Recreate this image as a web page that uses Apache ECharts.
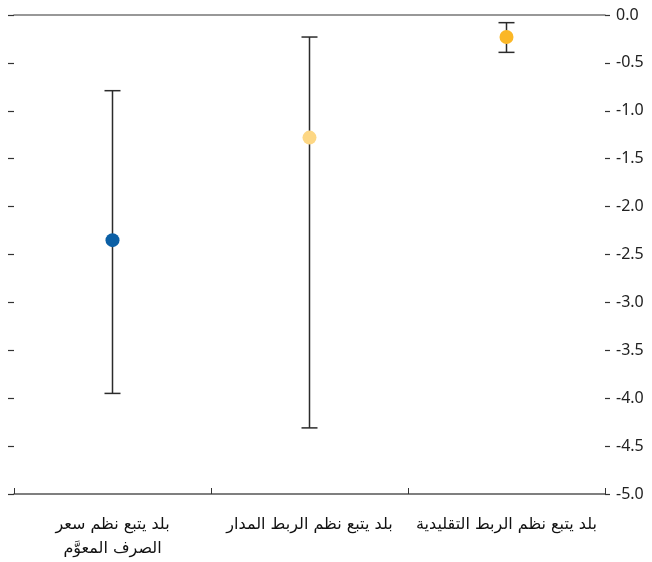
<!DOCTYPE html>
<html>
<head>
<meta charset="utf-8">
<script src="https://cdn.jsdelivr.net/npm/echarts@6/dist/echarts.min.js"></script>
<style>
  html, body { margin: 0; padding: 0; background: #fff; }
  #chart { width: 652px; height: 562px; }
</style>
</head>
<body>
<div id="chart"></div>
<script>
// Regime categories (left to right)
const categories = [
  'بلد يتبع نظم سعر\nالصرف المعوَّم',
  'بلد يتبع نظم الربط المدار',
  'بلد يتبع نظم الربط التقليدية'
];
// Point estimates and their interval bounds
const estimates = [-2.35, -1.28, -0.23];
const upperBounds = [-0.79, -0.23, -0.08];
const lowerBounds = [-3.95, -4.31, -0.39];
const pointColors = ['#0b5fa5', '#fdd784', '#fbb726'];
// Value-axis ticks
const yMin = -5.0, yMax = 0.0, yStep = 0.5;

const chart = echarts.init(document.getElementById('chart'), null, { renderer: 'canvas' });

const lineColor = '#2b2b2b';
const capHalf = 8;

chart.setOption({
  animation: false,
  backgroundColor: '#fff',
  grid: { left: 14, right: 47, top: 15, bottom: 68, containLabel: false },
  xAxis: [{
    type: 'category',
    data: categories,
    boundaryGap: true,
    position: 'bottom',
    axisLine: { show: true, onZero: false, lineStyle: { color: '#555', width: 1.5 } },
    axisTick: { show: true, inside: true, length: 6, lineStyle: { color: '#333', width: 1 } },
    axisLabel: {
      interval: 0,
      margin: 19,
      fontSize: 16,
      lineHeight: 24,
      color: '#111',
      fontFamily: '"DejaVu Sans", "Noto Sans", sans-serif'
    },
    splitLine: { show: false }
  }, {
    type: 'category',
    data: categories,
    position: 'top',
    axisLine: { show: true, onZero: false, lineStyle: { color: '#777', width: 1.5 } },
    axisTick: { show: false },
    axisLabel: { show: false },
    splitLine: { show: false }
  }],
  yAxis: [{
    type: 'value',
    position: 'left',
    min: yMin, max: yMax, interval: yStep,
    axisLine: { show: false },
    axisTick: { show: true, length: 6, lineStyle: { color: '#333', width: 1.2 } },
    axisLabel: { show: false },
    splitLine: { show: false }
  }, {
    type: 'value',
    position: 'right',
    min: yMin, max: yMax, interval: yStep,
    axisLine: { show: false },
    axisTick: { show: true, length: 5, lineStyle: { color: '#333', width: 1.2 } },
    axisLabel: {
      show: true,
      margin: 11,
      fontSize: 16,
      color: '#222',
      fontFamily: '"Noto Sans", Roboto, sans-serif',
      formatter: v => v.toFixed(1)
    },
    splitLine: { show: false }
  }],
  series: [{
    type: 'custom',
    xAxisIndex: 0,
    yAxisIndex: 0,
    data: categories.map((c, i) => [i, upperBounds[i], lowerBounds[i]]),
    encode: { x: 0, y: [1, 2] },
    z: 2,
    renderItem: (params, api) => {
      const top = api.coord([api.value(0), api.value(1)]);
      const bot = api.coord([api.value(0), api.value(2)]);
      const style = { stroke: lineColor, lineWidth: 1.5 };
      return {
        type: 'group',
        children: [
          { type: 'line', shape: { x1: top[0], y1: top[1], x2: bot[0], y2: bot[1] }, style },
          { type: 'line', shape: { x1: top[0] - capHalf, y1: top[1], x2: top[0] + capHalf, y2: top[1] }, style },
          { type: 'line', shape: { x1: bot[0] - capHalf, y1: bot[1], x2: bot[0] + capHalf, y2: bot[1] }, style }
        ]
      };
    }
  }, {
    type: 'scatter',
    xAxisIndex: 0,
    yAxisIndex: 0,
    z: 3,
    symbol: 'circle',
    symbolSize: 14,
    itemStyle: { opacity: 1 },
    emphasis: { disabled: true },
    data: estimates.map((v, i) => ({ value: [i, v], itemStyle: { color: pointColors[i], opacity: 1 } }))
  }]
});
</script>
</body>
</html>
